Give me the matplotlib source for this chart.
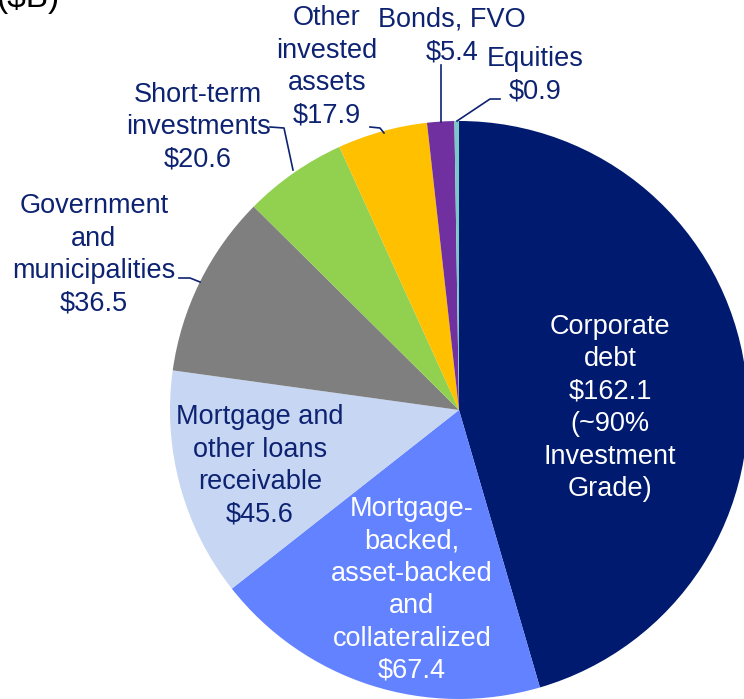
import matplotlib
matplotlib.use('Agg')
import matplotlib.pyplot as plt

plt.rcParams['font.family'] = ['Liberation Sans', 'DejaVu Sans']

# Portfolio composition ($B)
categories = ['Corporate debt', 'Mortgage-backed, asset-backed and collateralized',
              'Mortgage and other loans receivable', 'Government and municipalities',
              'Short-term investments', 'Other invested assets', 'Bonds, FVO', 'Equities']
values = [162.1, 67.4, 45.6, 36.5, 20.6, 17.9, 5.4, 0.9]
labels = ['Corporate\ndebt\n$162.1\n(~90%\nInvestment\nGrade)',
          'Mortgage-\nbacked,\nasset-backed\nand\ncollateralized\n$67.4',
          'Mortgage and\nother loans\nreceivable\n$45.6',
          'Government\nand\nmunicipalities\n$36.5',
          'Short-term\ninvestments\n$20.6',
          'Other\ninvested\nassets\n$17.9',
          'Bonds, FVO\n$5.4',
          'Equities\n$0.9']
colors = ['#001A70', '#6282FF', '#C6D6F3', '#7F7F7F', '#92D050', '#FFC000', '#7030A0', '#7CC8C8']

navy = '#0D2372'

fig = plt.figure(figsize=(7.44, 6.99), dpi=100)
ax = fig.add_axes([0, 0, 1, 1])

# y axis runs downward (pixel-like), so angles are mirrored: start at -90 going "counterclock"
ax.pie(values, colors=colors, startangle=-90, counterclock=True,
       center=(459, 410), radius=289, wedgeprops=dict(linewidth=0))
ax.set_xlim(0, 744)
ax.set_ylim(699, 0)
ax.set_aspect('auto')
ax.axis('off')

# label placement (x, y, colour)
label_pos = [(610, 408, 'white'), (412, 590, 'white'), (260, 466, navy),
             (94, 255, navy), (198, 127, navy), (327, 67, navy),
             (452, 36, navy), (535, 75, navy)]
for txt, (x, y, c) in zip(labels, label_pos):
    ax.text(x, y, txt, ha='center', va='center', color=c, fontsize=19.5, linespacing=1.32)

# leader lines
leaders = [
    ([179, 190, 200], [278, 278, 282]),
    ([270, 284, 293], [127, 128, 170]),
    ([370, 380, 384], [127, 128, 133]),
    ([441, 441], [65, 122]),
    ([500, 490, 457], [99, 99, 121]),
]
for xs, ys in leaders:
    ax.plot(xs, ys, color=navy, linewidth=1.2)

# units label, cut by the top edge like in the slide
ax.text(-3, 7, '($B)', ha='left', va='baseline', color='black', fontsize=24)

fig.savefig('out.png', dpi=100)
